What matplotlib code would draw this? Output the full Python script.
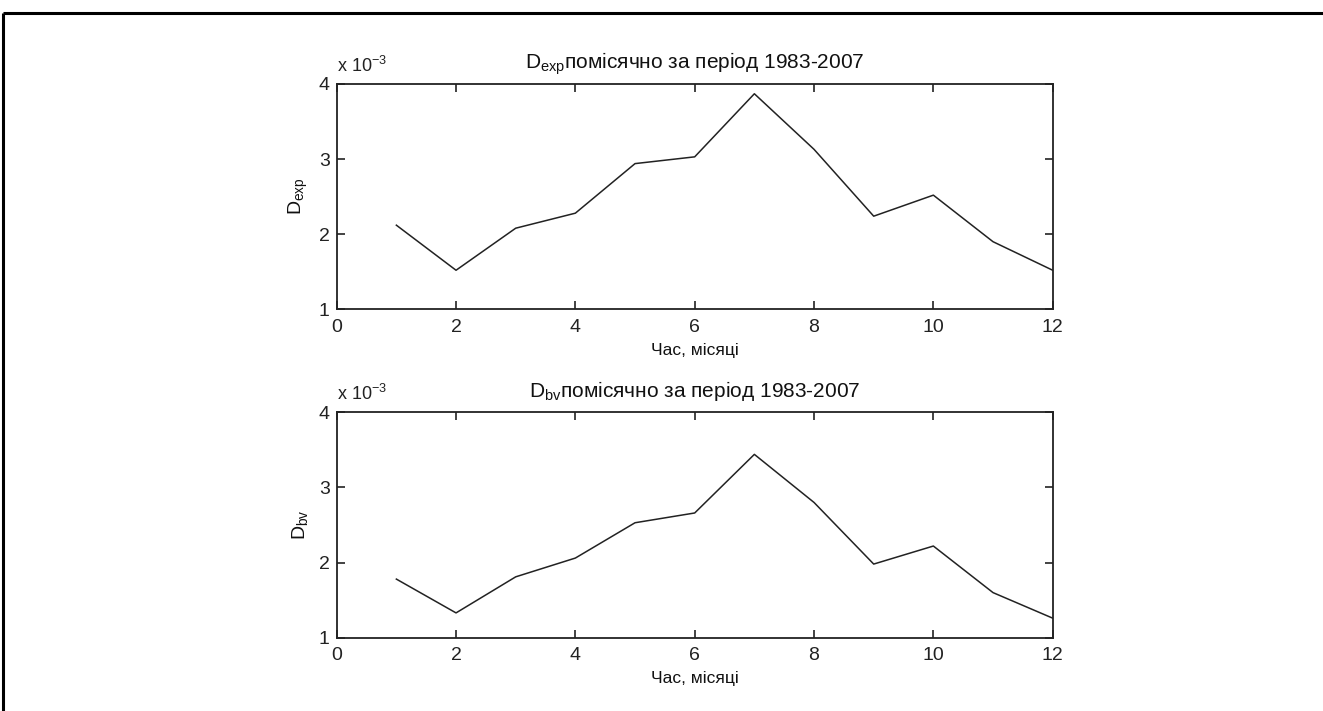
import matplotlib
matplotlib.use("Agg")
import matplotlib.pyplot as plt
from matplotlib.lines import Line2D
from matplotlib import font_manager

# ---- data (values in units of 10^-3) ----
months = [1, 2, 3, 4, 5, 6, 7, 8, 9, 10, 11, 12]
d_exp = [2.12, 1.52, 2.08, 2.28, 2.94, 3.03, 3.87, 3.13, 2.24, 2.52, 1.90, 1.52]
d_bv = [1.78, 1.33, 1.81, 2.06, 2.53, 2.66, 3.44, 2.80, 1.98, 2.22, 1.60, 1.26]
x_ticks = [0, 2, 4, 6, 8, 10, 12]
y_ticks = [1, 2, 3, 4]
title_exp = r"D$_{\rm exp}$помісячно за період 1983-2007"
title_bv = r"D$_{\rm bv}$помісячно за період 1983-2007"
ylabel_exp = r"D$_{\rm exp}$"
ylabel_bv = r"D$_{\rm bv}$"
xlabel = "Час, місяці"
scale_text = r"x 10$^{-3}$"

available = {f.name for f in font_manager.fontManager.ttflist}
fam = "Liberation Sans Narrow" if "Liberation Sans Narrow" in available else "Liberation Sans"
plt.rcParams["font.family"] = [fam, "DejaVu Sans"]
plt.rcParams["mathtext.fontset"] = "custom"
plt.rcParams["mathtext.rm"] = fam
plt.rcParams["mathtext.it"] = fam

fig = plt.figure(figsize=(13.23, 7.11), dpi=100)
W, H = 1323, 711

# outer frame (top and left edges)
fig.add_artist(Line2D([3 / W, 1.0], [1 - 13 / H, 1 - 13 / H], transform=fig.transFigure,
                      color="black", lw=2.2, solid_capstyle="butt"))
fig.add_artist(Line2D([3 / W, 3 / W], [0.0, 1 - 13 / H], transform=fig.transFigure,
                      color="black", lw=2.2, solid_capstyle="butt"))

left = 336.7 / W
width = (1052.7 - 336.7) / W
panels = [
    (84.0, 309.3, d_exp, title_exp, ylabel_exp),
    (412.3, 637.7, d_bv, title_bv, ylabel_bv),
]

for top_px, bot_px, vals, ttl, ylab in panels:
    ax = fig.add_axes([left, 1 - bot_px / H, width, (bot_px - top_px) / H])
    ax.plot(months, vals, color="#222222", lw=1.1)
    ax.set_xlim(0, 12)
    ax.set_ylim(1, 4)
    ax.set_xticks(x_ticks)
    ax.set_yticks(y_ticks)
    ax.tick_params(direction="in", length=6, width=1.2, top=True, right=True,
                   labelsize=14, colors="#222222")
    ax.tick_params(axis="x", pad=7)
    ax.tick_params(axis="y", pad=5)
    for s in ax.spines.values():
        s.set_linewidth(1.3)
        s.set_color("#222222")
    ax.set_title(ttl, fontsize=15, pad=11, color="#111111")
    ax.set_xlabel(xlabel, fontsize=12.5, labelpad=5, color="#111111")
    ax.set_ylabel(ylab, fontsize=14, labelpad=6, color="#111111")
    ax.text(0.0, 1.035, scale_text, transform=ax.transAxes, ha="left", va="bottom",
            fontsize=13, color="#222222")

fig.savefig("out.png", dpi=100)
